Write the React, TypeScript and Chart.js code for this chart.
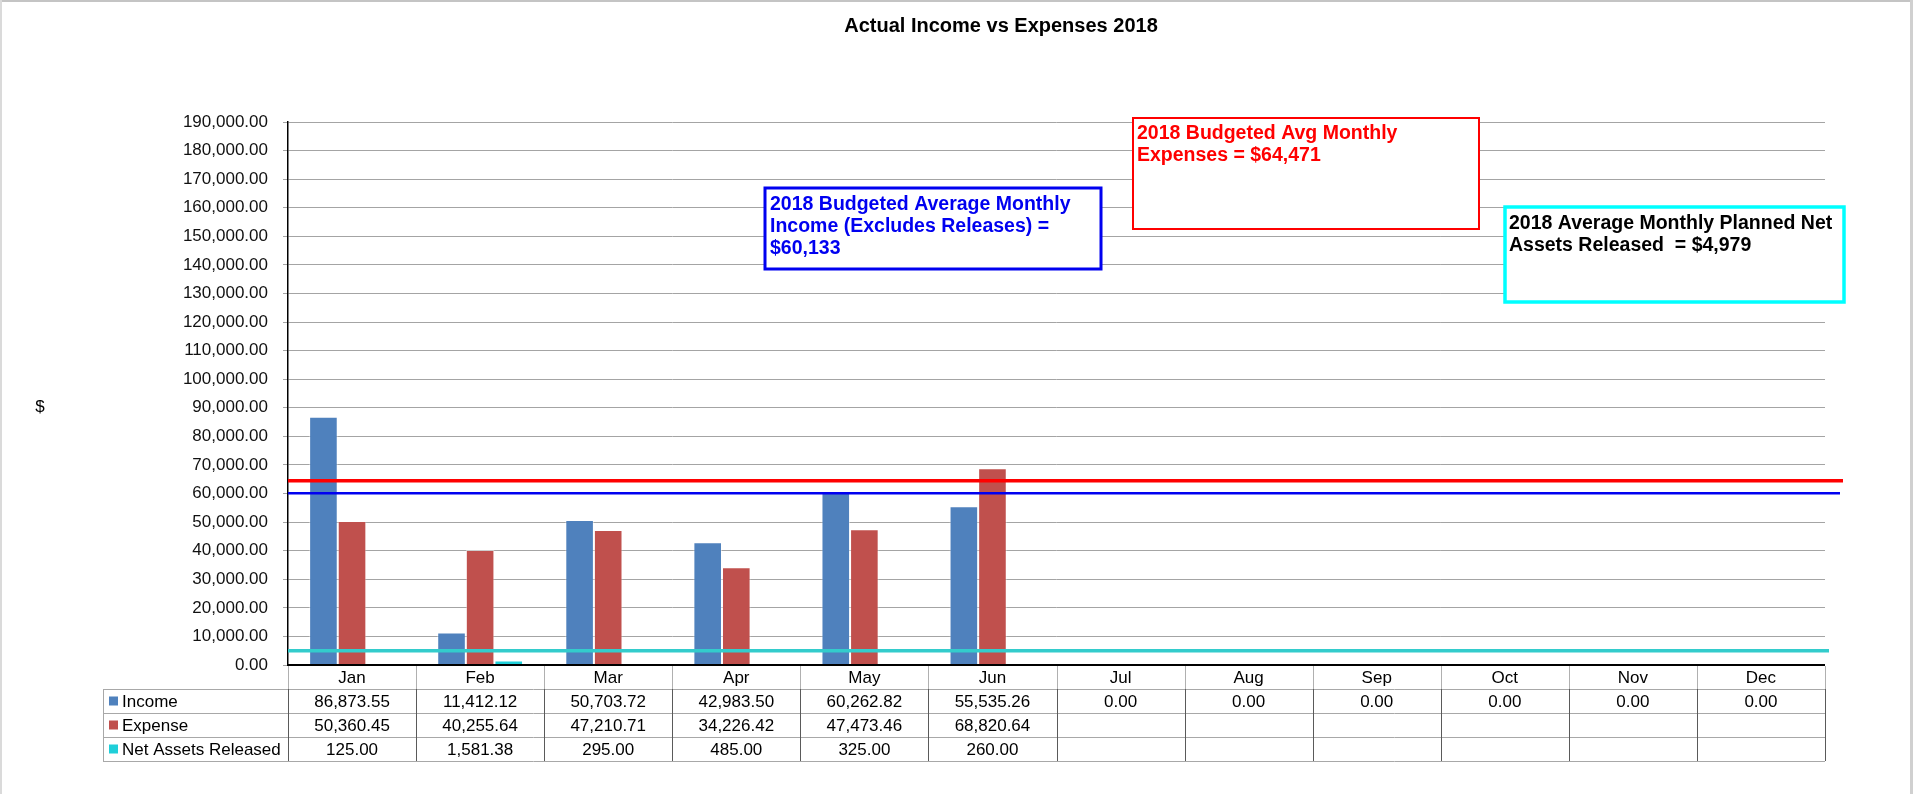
import React, { useEffect, useRef } from "react";
import { Chart, registerables } from "chart.js";

Chart.register(...registerables);

// ---------- data ----------
const months = ["Jan", "Feb", "Mar", "Apr", "May", "Jun", "Jul", "Aug", "Sep", "Oct", "Nov", "Dec"];
const income: (number | null)[] = [86873.55, 11412.12, 50703.72, 42983.5, 60262.82, 55535.26, 0, 0, 0, 0, 0, 0];
const expense: (number | null)[] = [50360.45, 40255.64, 47210.71, 34226.42, 47473.46, 68820.64, null, null, null, null, null, null];
const netReleased: (number | null)[] = [125, 1581.38, 295, 485, 325, 260, null, null, null, null, null, null];
const seriesNames = ["Income", "Expense", "Net Assets Released"];

const yMin = 0;
const yMax = 190000;
const yStep = 10000;

// budget reference values: expenses, income, planned releases
const referenceValues = [64471, 60133, 4979];

const titleText = "Actual Income vs Expenses 2018";
const yAxisLabel = "$";
const noteBlue = ["2018 Budgeted Average Monthly", "Income (Excludes Releases) =", "$60,133"];
const noteRed = ["2018 Budgeted Avg Monthly", "Expenses = $64,471"];
const noteCyan = ["2018 Average Monthly Planned Net", "Assets Released  = $4,979"];

// ---------- styles ----------
const FONT = "'Liberation Sans', Arial, Helvetica, sans-serif";
const seriesColors = ["#4F81BD", "#C0504D", "#1FCFD9"];
const refStyles = [
  { color: "#FF0000", width: 3.5, endX: 1843 },
  { color: "#0000F0", width: 2.5, endX: 1840 },
  { color: "#33CCCC", width: 3.5, endX: 1829 },
];
const noteBoxes = [
  { lines: noteRed, color: "#FF0000", text: "#FF0000", x: 1133, y: 118, w: 346, h: 111, lw: 2, tx: 1137, ty: 139 },
  { lines: noteBlue, color: "#0000F0", text: "#0000F0", x: 765, y: 188, w: 336, h: 81, lw: 3, tx: 770, ty: 210 },
  { lines: noteCyan, color: "#00FFFF", text: "#000000", x: 1505, y: 207, w: 339, h: 95, lw: 3.5, tx: 1509, ty: 229 },
];

const fmt = (v: number | null) =>
  v === null || v === undefined
    ? ""
    : v.toLocaleString("en-US", { minimumFractionDigits: 2, maximumFractionDigits: 2 });

const extrasPlugin = {
  id: "extras",
  beforeDraw(chart: any) {
    const ctx = chart.ctx as CanvasRenderingContext2D;
    ctx.save();
    ctx.fillStyle = "#ffffff";
    ctx.fillRect(0, 0, chart.width, chart.height);
    // outer frame
    ctx.fillStyle = "#c4c4c4";
    ctx.fillRect(0, 0, 1913, 2);
    ctx.fillStyle = "#dadada";
    ctx.fillRect(0, 0, 2, chart.height);
    ctx.fillStyle = "#d0d0d0";
    ctx.fillRect(1910, 0, 3, chart.height);
    // "$" axis label
    ctx.fillStyle = "#000";
    ctx.font = `17px ${FONT}`;
    ctx.textAlign = "center";
    ctx.textBaseline = "middle";
    ctx.fillText(yAxisLabel, 40, 407);
    ctx.restore();
  },
  afterDatasetsDraw(chart: any) {
    const ctx = chart.ctx as CanvasRenderingContext2D;
    const area = chart.chartArea;
    const y = chart.scales.y;
    ctx.save();
    // x axis base line
    ctx.strokeStyle = "#000";
    ctx.lineWidth = 2;
    ctx.beginPath();
    ctx.moveTo(area.left, y.getPixelForValue(0));
    ctx.lineTo(area.right, y.getPixelForValue(0));
    ctx.stroke();
    // reference lines
    referenceValues.forEach((v, i) => {
      const st = refStyles[i];
      const py = y.getPixelForValue(v);
      ctx.strokeStyle = st.color;
      ctx.lineWidth = st.width;
      ctx.beginPath();
      ctx.moveTo(area.left, py);
      ctx.lineTo(st.endX, py);
      ctx.stroke();
    });
    // note boxes
    noteBoxes.forEach((b) => {
      ctx.fillStyle = "#ffffff";
      ctx.fillRect(b.x, b.y, b.w, b.h);
      ctx.strokeStyle = b.color;
      ctx.lineWidth = b.lw;
      ctx.strokeRect(b.x, b.y, b.w, b.h);
      ctx.fillStyle = b.text;
      ctx.font = `bold 19.5px ${FONT}`;
      ctx.textAlign = "left";
      ctx.textBaseline = "alphabetic";
      b.lines.forEach((t, k) => ctx.fillText(t, b.tx, b.ty + k * 22));
    });
    ctx.restore();
  },
  afterDraw(chart: any) {
    const ctx = chart.ctx as CanvasRenderingContext2D;
    const area = chart.chartArea;
    const xs = chart.scales.x;
    const n = months.length;
    const bounds: number[] = [];
    for (let i = 0; i <= n; i++) {
      if (i === 0) bounds.push(area.left);
      else if (i === n) bounds.push(area.right);
      else bounds.push((xs.getPixelForValue(i - 1) + xs.getPixelForValue(i)) / 2);
    }
    const top = area.bottom;
    const rowH = 24;
    const tableLeft = 103;
    const rows = [income, expense, netReleased];
    ctx.save();
    ctx.lineWidth = 1;
    // horizontal lines
    ctx.strokeStyle = "#a8a8a8";
    for (let r = 1; r <= 4; r++) {
      const yy = Math.round(top + r * rowH) + 0.5;
      ctx.beginPath();
      ctx.moveTo(tableLeft, yy);
      ctx.lineTo(area.right, yy);
      ctx.stroke();
    }
    // left border
    ctx.beginPath();
    ctx.moveTo(tableLeft + 0.5, top + rowH);
    ctx.lineTo(tableLeft + 0.5, top + 4 * rowH);
    ctx.stroke();
    // vertical lines
    bounds.forEach((bx) => {
      const xx = Math.round(bx) + 0.5;
      ctx.strokeStyle = "#b0b0b0";
      ctx.beginPath();
      ctx.moveTo(xx, top + 1);
      ctx.lineTo(xx, top + rowH);
      ctx.stroke();
      ctx.strokeStyle = "#5a5a5a";
      ctx.beginPath();
      ctx.moveTo(xx, top + rowH);
      ctx.lineTo(xx, top + 4 * rowH);
      ctx.stroke();
    });
    // texts
    ctx.fillStyle = "#000";
    ctx.font = `17px ${FONT}`;
    ctx.textBaseline = "alphabetic";
    ctx.textAlign = "center";
    months.forEach((m, i) => {
      const cx = xs.getPixelForValue(i);
      ctx.fillText(m, cx, top + 18);
      rows.forEach((arr, r) => {
        ctx.fillText(fmt(arr[i]), cx, top + (r + 1) * rowH + 18);
      });
    });
    // legend column
    ctx.textAlign = "left";
    seriesNames.forEach((name, r) => {
      const cy = top + (r + 1) * rowH + rowH / 2;
      ctx.fillStyle = seriesColors[r];
      ctx.fillRect(109, cy - 4.5, 9, 9);
      ctx.fillStyle = "#000";
      ctx.fillText(name, 122, top + (r + 1) * rowH + 18);
    });
    ctx.restore();
  },
};

export default function App() {
  const ref = useRef<HTMLCanvasElement | null>(null);
  useEffect(() => {
    document.body.style.margin = "0";
    const canvas = ref.current;
    if (!canvas) return;
    const series = [income, expense, netReleased];
    const chart = new Chart(canvas, {
      type: "bar",
      data: {
        labels: months,
        datasets: series.map((d, i) => ({
          label: seriesNames[i],
          data: d,
          backgroundColor: seriesColors[i],
          borderColor: "rgba(255,255,255,0.45)",
          borderWidth: { top: 1, left: 1, right: 1, bottom: 0 },
          borderSkipped: "start",
          categoryPercentage: 0.67,
          barPercentage: 1,
        })),
      },
      options: {
        responsive: false,
        animation: false,
        devicePixelRatio: 1,
        layout: { padding: { left: 177, right: 90, top: 0, bottom: 129 } },
        plugins: {
          legend: { display: false },
          tooltip: { enabled: false },
          title: {
            display: true,
            text: titleText,
            color: "#000",
            font: { family: FONT, size: 20, weight: "bold" },
            padding: { top: 14, bottom: 84 },
          },
        },
        scales: {
          x: { display: false, offset: true },
          y: {
            min: yMin,
            max: yMax,
            afterFit: (s: any) => {
              s.width = 111;
            },
            ticks: {
              stepSize: yStep,
              maxTicksLimit: 30,
              autoSkip: false,
              padding: 15,
              color: "#111",
              font: { family: FONT, size: 17 },
              callback: (v: any) => fmt(Number(v)),
            },
            grid: { color: "#a4a4a4", lineWidth: 1, tickLength: 5, drawTicks: true },
            border: { display: true, color: "#000", width: 1.5 },
          },
        },
      },
      plugins: [extrasPlugin],
    } as any);
    return () => chart.destroy();
  }, []);
  return <canvas ref={ref} width={1915} height={794} style={{ display: "block" }} />;
}
